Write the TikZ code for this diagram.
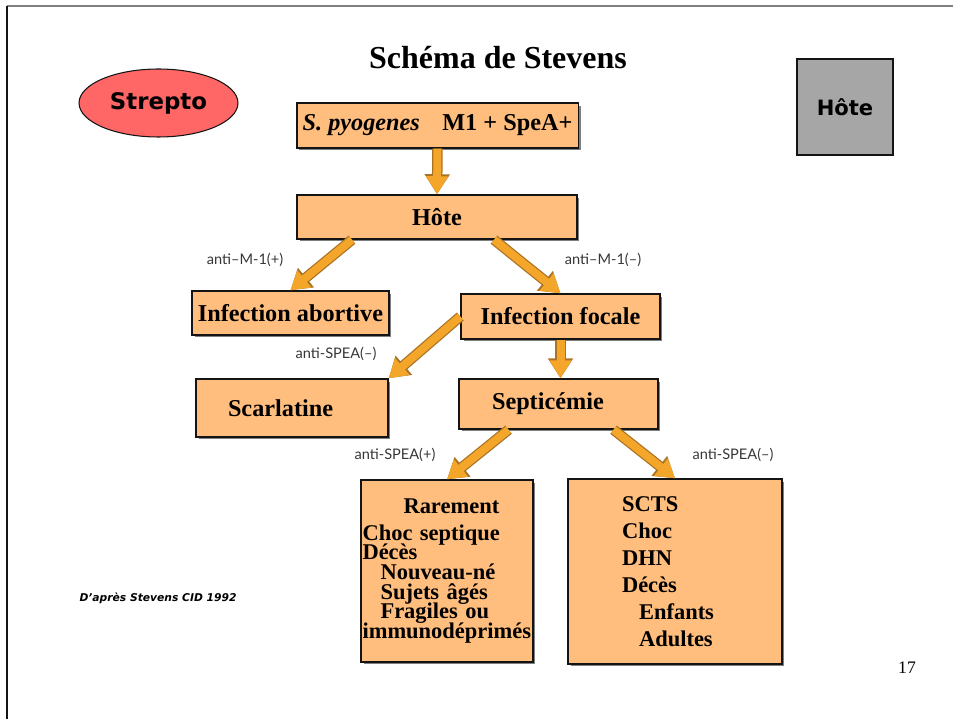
\documentclass[tikz,border=0pt]{standalone}
\usepackage{fontspec}
\setmainfont{Liberation Serif}
\newfontfamily\verdana{DejaVu Sans}
\newfontfamily\gill{Lato}
\usetikzlibrary{arrows.meta,positioning,shapes.geometric,shadows,calc}
\definecolor{peach}{RGB}{255,190,125}
\definecolor{gold}{RGB}{244,166,42}
\definecolor{rust}{RGB}{170,115,35}
\definecolor{salmon}{RGB}{255,102,102}
\definecolor{slate}{RGB}{166,166,166}
\definecolor{ink}{RGB}{20,20,20}
\newcommand\tightlines{\lineskiplimit=-20pt\relax}
\tikzset{
  box/.style={draw=ink,fill=peach,line width=0.8pt,
    font=\fontsize{13.8}{16}\selectfont\bfseries\tightlines,
    drop shadow={shadow xshift=0.05cm,shadow yshift=-0.05cm,opacity=0.5,fill=black}},
  flow/.style={draw=gold,line width=0.16cm,-{Triangle[length=0.36cm,width=0.42cm]},
    preaction={draw=rust,line width=0.21cm,-{Triangle[length=0.4cm,width=0.48cm]}}},
  tag/.style={font=\gill\fontsize{8.3}{10}\selectfont,text=ink!85},
  badge/.style={draw=ink,line width=0.6pt,font=\verdana\fontsize{13}{15}\selectfont\bfseries},
}
\begin{document}
\begin{tikzpicture}[x=0.02cm,y=-0.02cm]
  \useasboundingbox (0,0) rectangle (953,719);
  \draw[gray,line width=0.04cm] (7,6) -- (953,6);
  \draw[ink,line width=0.04cm] (7,6) -- (7,719);

  \node[font=\fontsize{18.2}{20}\selectfont\bfseries] (title) at (498,58) {Schéma de Stevens};
  \node[badge,ellipse,fill=salmon,minimum width=3.18cm,minimum height=1.36cm] (strepto) at (158.5,103) {Strepto};
  \node[badge,fill=slate,minimum width=1.92cm,minimum height=1.92cm,font=\verdana\fontsize{12}{14}\selectfont\bfseries] (hostkey) at (845,107) {Hôte};

  \node[box,minimum width=5.62cm,minimum height=0.9cm] (pyo) at (437.5,125.5) {\textit{S. pyogenes}\hspace{0.45cm}M1 + SpeA+};
  \node[box,minimum width=5.6cm,minimum height=0.88cm] (host) at (437,217) {Hôte};
  \node[box,minimum width=3.78cm,minimum height=0.88cm] (abort) at (290.5,313) {Infection abortive};
  \node[box,minimum width=3.98cm,minimum height=0.9cm] (focal) at (560.5,316.5) {Infection focale};
  \node[box,minimum width=3.84cm,minimum height=1.16cm,text width=2.56cm,inner xsep=0.64cm,align=left] (scarl) at (292,408) {Scarlatine};
  \node[box,minimum width=3.98cm,minimum height=1.0cm,text width=2.66cm,inner xsep=0.66cm,align=left] (septi) at (558.5,404) {Septicémie};
  \node[box,minimum width=3.44cm,minimum height=3.64cm,text width=3.38cm,inner xsep=0.03cm,align=left,
    font=\fontsize{12.8}{11.2}\selectfont\bfseries\tightlines] (rare) at (447,571)
    {\hspace*{0.82cm}Rarement\\[4pt]Choc septique\\Décès\\\hspace*{0.36cm}Nouveau-né\\\hspace*{0.36cm}Sujets âgés\\\hspace*{0.36cm}Fragiles ou\\immunodéprimés};
  \node[box,minimum width=4.28cm,minimum height=3.7cm,text width=2.12cm,inner xsep=1.08cm,align=left,
    font=\fontsize{12.8}{15.3}\selectfont\bfseries] (scts) at (675,571.5)
    {SCTS\\Choc\\DHN\\Décès\\\hspace*{0.34cm}Enfants\\\hspace*{0.34cm}Adultes};

  \draw[flow] (pyo.south) -- (host.north);
  \draw[flow] ($(host.south)+(-85,0)$) -- (abort.north);
  \draw[flow] ($(host.south)+(57,0)$) -- (focal.north);
  \draw[flow] (focal.west) -- (scarl.north east);
  \draw[flow] (focal.south) -- (focal.south |- septi.north);
  \draw[flow] ($(septi.south)+(-50,0)$) -- (rare.north);
  \draw[flow] ($(septi.south)+(55,0)$) -- (scts.north);

  \node[tag] (m1pos) at (245,260) {anti–M-1(+)};
  \node[tag] (m1neg) at (603,260) {anti–M-1(–)};
  \node[tag] (speaA) at (336,354) {anti-SPEA(–)};
  \node[tag] (speaB) at (395,455) {anti-SPEA(+)};
  \node[tag] (speaC) at (733,455) {anti-SPEA(–)};

  \node[font=\verdana\fontsize{6.1}{7}\selectfont\bfseries\itshape] (source) at (158,598) {D’après Stevens CID 1992};
  \node[font=\fontsize{10}{12}\selectfont] (page) at (907,668) {17};
\end{tikzpicture}
\end{document}
